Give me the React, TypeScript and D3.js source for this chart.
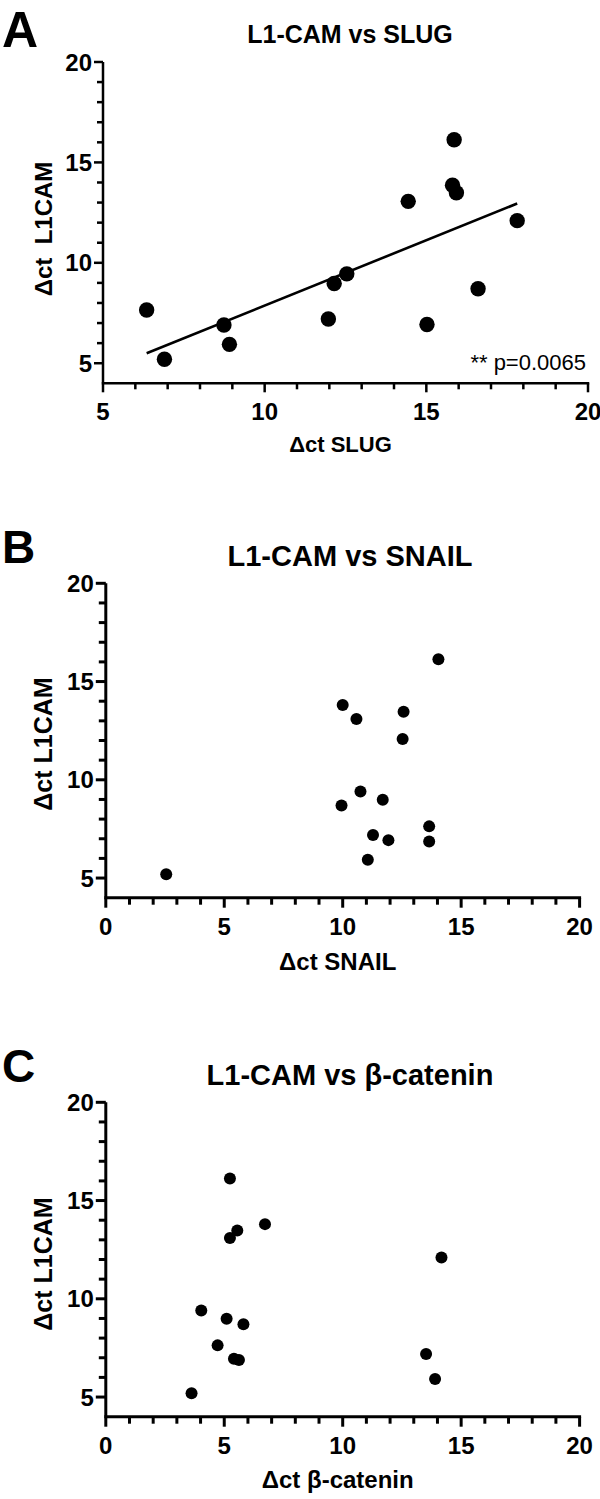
import React from 'react';
import * as d3 from 'd3';

// ---------- data ----------
const SLUG = [15.86, 15.81, 15.93, 14.44, 17.81, 12.54, 12.15, 6.35, 16.6, 11.97, 8.74, 15.02, 8.91, 6.9];
const L1CAM_A = [16.13, 13.86, 13.49, 13.06, 12.1, 9.45, 8.97, 7.65, 8.71, 7.2, 6.9, 6.93, 5.94, 5.2];

const SNAIL = [14.04, 10.0, 10.58, 12.57, 12.53, 10.75, 9.95, 11.69, 13.65, 11.28, 11.93, 13.65, 11.06, 2.55];
const L1CAM_B = [16.14, 13.81, 13.1, 13.46, 12.08, 9.41, 8.69, 8.98, 7.63, 7.19, 6.93, 6.86, 5.93, 5.19];

const BCAT = [5.24, 6.72, 5.55, 5.24, 14.17, 4.03, 5.1, 5.81, 4.72, 5.41, 5.62, 13.52, 13.9, 3.62];
const L1CAM_C = [16.12, 13.8, 13.47, 13.1, 12.1, 9.41, 8.98, 8.71, 7.63, 6.95, 6.88, 7.19, 5.92, 5.19];

const Y_MAJOR = [5, 10, 15, 20];
const X_MAJOR_A = [5, 10, 15, 20];
const X_MAJOR_BC = [0, 5, 10, 15, 20];

const TITLES = ['L1-CAM vs SLUG', 'L1-CAM vs SNAIL', 'L1-CAM vs \u03b2-catenin'];
const X_LABELS = ['\u0394ct SLUG', '\u0394ct SNAIL', '\u0394ct \u03b2-catenin'];
const Y_LABELS = ['\u0394ct\u00a0\u00a0L1CAM', '\u0394ct L1CAM', '\u0394ct L1CAM'];
const LETTERS = ['A', 'B', 'C'];
const P_TEXT = '** p=0.0065';

const FONT = "'Liberation Sans', Arial, Helvetica, sans-serif";

type PanelProps = {
  letter: string;
  letterSize: number;
  letterBase: number;
  title: string;
  titleSize: number;
  titleBase: number;
  xLabel: string;
  xLabelSize: number;
  xLabelBase: number;
  yLabel: string;
  yLabelSize: number;
  yLabelX: number;
  yLabelY: number;
  xs: number[];
  ys: number[];
  xDomain: [number, number];
  xRange: [number, number];
  yRange: [number, number];
  xMajor: number[];
  r: number;
  axisW: number;
  majorLen: number;
  minorLen: number;
  tickSize: number;
  fit?: boolean;
  pText?: string;
};

function Panel(p: PanelProps) {
  const x = d3.scaleLinear().domain(p.xDomain).range(p.xRange);
  const y = d3.scaleLinear().domain([4, 20]).range(p.yRange);
  const x0 = x(p.xDomain[0]);
  const x1 = x(p.xDomain[1]);
  const yb = y(4);
  const yt = y(20);
  const xMinor = d3.range(p.xDomain[0] + 1, p.xDomain[1]).filter((v) => !p.xMajor.includes(v));
  const yMinor = d3.range(6, 20).filter((v) => !Y_MAJOR.includes(v));

  let fitLine: React.ReactNode = null;
  if (p.fit) {
    const mx = d3.mean(p.xs) as number;
    const my = d3.mean(p.ys) as number;
    let sxy = 0;
    let sxx = 0;
    p.xs.forEach((v, i) => {
      sxy += (v - mx) * (p.ys[i] - my);
      sxx += (v - mx) * (v - mx);
    });
    const b = sxy / sxx;
    const a = my - b * mx;
    const [lo, hi] = d3.extent(p.xs) as [number, number];
    const line = d3.line<number>().x((v) => x(v)).y((v) => y(a + b * v));
    fitLine = <path d={line([lo, hi]) || ''} stroke="#000" strokeWidth={2.6} fill="none" />;
  }

  return (
    <g fontFamily={FONT}>
      <text x={2} y={p.letterBase} fontSize={p.letterSize} fontWeight="bold">{p.letter}</text>
      <text x={350} y={p.titleBase} fontSize={p.titleSize} fontWeight="bold" textAnchor="middle">{p.title}</text>
      {/* axes */}
      <line x1={x0} x2={x0} y1={yt} y2={yb} stroke="#000" strokeWidth={p.axisW} />
      <line x1={x0 - p.axisW / 2} x2={x1 + p.axisW / 2} y1={yb} y2={yb} stroke="#000" strokeWidth={p.axisW} />
      {Y_MAJOR.map((v) => (
        <g key={'ym' + v}>
          <line x1={x0 - p.majorLen} x2={x0} y1={y(v)} y2={y(v)} stroke="#000" strokeWidth={p.axisW} />
          <text x={x0 - p.majorLen - 2} y={y(v)} dy="0.36em" fontSize={p.tickSize} fontWeight="bold" textAnchor="end">{v}</text>
        </g>
      ))}
      {yMinor.map((v) => (
        <line key={'yn' + v} x1={x0 - p.minorLen} x2={x0} y1={y(v)} y2={y(v)} stroke="#000" strokeWidth={p.axisW} />
      ))}
      {p.xMajor.map((v) => (
        <g key={'xm' + v}>
          <line x1={x(v)} x2={x(v)} y1={yb} y2={yb + p.majorLen} stroke="#000" strokeWidth={p.axisW} />
          <text x={x(v)} y={yb + 37} fontSize={p.tickSize} fontWeight="bold" textAnchor="middle">{v}</text>
        </g>
      ))}
      {xMinor.map((v) => (
        <line key={'xn' + v} x1={x(v)} x2={x(v)} y1={yb} y2={yb + p.minorLen} stroke="#000" strokeWidth={p.axisW} />
      ))}
      <text x={(x0 + x1) / 2 - 5} y={p.xLabelBase} fontSize={p.xLabelSize} fontWeight="bold" textAnchor="middle">{p.xLabel}</text>
      <text
        transform={`translate(${p.yLabelX},${p.yLabelY}) rotate(-90)`}
        fontSize={p.yLabelSize}
        fontWeight="bold"
        textAnchor="middle"
        style={{ whiteSpace: 'pre' }}
      >
        {p.yLabel}
      </text>
      {fitLine}
      {p.xs.map((v, i) => (
        <circle key={'pt' + i} cx={x(v)} cy={y(p.ys[i])} r={p.r} fill="#000" />
      ))}
      {p.pText && (
        <text x={x1 - 2} y={370} fontSize={22} textAnchor="end">{p.pText}</text>
      )}
    </g>
  );
}

export default function App() {
  return (
    <svg
      width={600}
      height={1499}
      viewBox="0 0 600 1499"
      style={{ position: 'absolute', left: 0, top: 0, background: '#fff' }}
    >
      <rect x={0} y={0} width={600} height={1499} fill="#fff" />
      <Panel
        letter={LETTERS[0]} letterSize={50} letterBase={47}
        title={TITLES[0]} titleSize={25} titleBase={43}
        xLabel={X_LABELS[0]} xLabelSize={22} xLabelBase={452}
        yLabel={Y_LABELS[0]} yLabelSize={24} yLabelX={52} yLabelY={229}
        xs={SLUG} ys={L1CAM_A}
        xDomain={[5, 20]} xRange={[103, 588]} yRange={[383.3, 62]}
        xMajor={X_MAJOR_A} r={7.7} axisW={2.5} majorLen={9} minorLen={6} tickSize={24}
        fit pText={P_TEXT}
      />
      <Panel
        letter={LETTERS[1]} letterSize={46} letterBase={563}
        title={TITLES[1]} titleSize={29} titleBase={566}
        xLabel={X_LABELS[1]} xLabelSize={24} xLabelBase={970}
        yLabel={Y_LABELS[1]} yLabelSize={25} yLabelX={52} yLabelY={744}
        xs={SNAIL} ys={L1CAM_B}
        xDomain={[0, 20]} xRange={[105.8, 579.6]} yRange={[897.7, 583.3]}
        xMajor={X_MAJOR_BC} r={6} axisW={3} majorLen={10} minorLen={7} tickSize={24}
      />
      <Panel
        letter={LETTERS[2]} letterSize={46} letterBase={1082}
        title={TITLES[2]} titleSize={29} titleBase={1085}
        xLabel={X_LABELS[2]} xLabelSize={24} xLabelBase={1488}
        yLabel={Y_LABELS[2]} yLabelSize={25} yLabelX={52} yLabelY={1264}
        xs={BCAT} ys={L1CAM_C}
        xDomain={[0, 20]} xRange={[105.8, 579.6]} yRange={[1416.7, 1102.3]}
        xMajor={X_MAJOR_BC} r={6} axisW={3} majorLen={10} minorLen={7} tickSize={24}
      />
    </svg>
  );
}
